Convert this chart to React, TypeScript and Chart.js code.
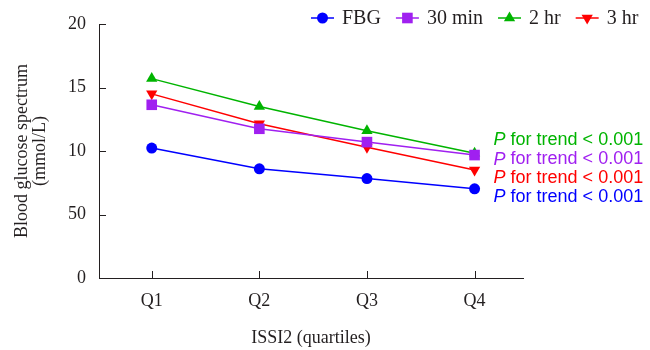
import React, { useEffect, useRef } from "react";
import { Chart, registerables } from "chart.js";

Chart.register(...registerables);

// ---- Data ----
const categories = ["Q1", "Q2", "Q3", "Q4"];
const seriesNames = ["FBG", "30 min", "2 hr", "3 hr"];
const fbgValues = [10.23, 8.6, 7.83, 7.02];
const min30Values = [13.64, 11.75, 10.7, 9.68];
const hr2Values = [15.7, 13.5, 11.6, 9.83];
const hr3Values = [14.5, 12.14, 10.3, 8.5];
const yTickValues = [0, 5, 10, 15, 20];
const yTickLabels = ["0", "50", "10", "15", "20"];
const trendTexts = ["for trend < 0.001", "for trend < 0.001", "for trend < 0.001", "for trend < 0.001"];
const trendSeries = [2, 1, 3, 0]; // order of annotation lines: 2 hr, 30 min, 3 hr, FBG
const trendYValues = [10.9, 9.33, 7.91, 6.34];

// ---- Styles ----
const colors = ["#0000ff", "#a020f0", "#00b400", "#ff0000"];
const pointStyles = ["circle", "rect", "triangle", "triangle"];
const pointRotations = [0, 0, 0, 180];
const pointRadii = [5.5, 7.5, 6.5, 6.5];
const drawOrders = [3, 0, 2, 1];
const serif = "'Liberation Serif', 'Times New Roman', serif";
const sans = "'Liberation Sans', Arial, sans-serif";
const textColor = "#231f20";

function drawMarker(ctx: CanvasRenderingContext2D, style: string, rot: number, x: number, y: number, r: number, color: string) {
  ctx.save();
  ctx.fillStyle = color;
  ctx.beginPath();
  if (style === "circle") {
    ctx.arc(x, y, r, 0, Math.PI * 2);
  } else if (style === "rect") {
    const s = r * Math.SQRT1_2;
    ctx.rect(x - s, y - s, 2 * s, 2 * s);
  } else {
    let a = (rot * Math.PI) / 180;
    ctx.moveTo(x + Math.sin(a) * r, y - Math.cos(a) * r);
    a += (2 * Math.PI) / 3;
    ctx.lineTo(x + Math.sin(a) * r, y - Math.cos(a) * r);
    a += (2 * Math.PI) / 3;
    ctx.lineTo(x + Math.sin(a) * r, y - Math.cos(a) * r);
    ctx.closePath();
  }
  ctx.fill();
  ctx.restore();
}

const decorPlugin = {
  id: "decor",
  afterDraw(chart: any) {
    const { ctx, chartArea, scales } = chart;
    const x = scales.x;
    const y = scales.y;
    ctx.save();
    // inward ticks
    ctx.strokeStyle = textColor;
    ctx.lineWidth = 1;
    ctx.beginPath();
    yTickValues.forEach((v) => {
      const py = Math.round(y.getPixelForValue(v)) + 0.5;
      ctx.moveTo(chartArea.left, py);
      ctx.lineTo(chartArea.left + 7, py);
    });
    categories.forEach((_, i) => {
      const px = Math.round(x.getPixelForValue(i)) + 0.5;
      ctx.moveTo(px, chartArea.bottom);
      ctx.lineTo(px, chartArea.bottom - 7);
    });
    ctx.stroke();

    // trend annotations
    const ax = x.getPixelForValue(categories.length - 1) + 19;
    ctx.textBaseline = "middle";
    ctx.textAlign = "left";
    trendSeries.forEach((si, k) => {
      const py = y.getPixelForValue(trendYValues[k]);
      ctx.fillStyle = colors[si];
      ctx.font = `italic 18px ${sans}`;
      ctx.fillText("P", ax, py);
      const w = ctx.measureText("P ").width;
      ctx.font = `18px ${sans}`;
      ctx.fillText(trendTexts[k], ax + w, py);
    });

    // legend
    ctx.font = `20px ${serif}`;
    let lx = 311;
    const ly = 18;
    seriesNames.forEach((name, i) => {
      ctx.strokeStyle = colors[i];
      ctx.lineWidth = 1.5;
      ctx.beginPath();
      ctx.moveTo(lx, ly);
      ctx.lineTo(lx + 23, ly);
      ctx.stroke();
      drawMarker(ctx, pointStyles[i], pointRotations[i], lx + 11.5, ly, pointRadii[i], colors[i]);
      ctx.fillStyle = textColor;
      ctx.textBaseline = "middle";
      ctx.fillText(name, lx + 31, ly + 1);
      lx += 31 + ctx.measureText(name).width + 15;
    });
    ctx.restore();
  },
};

export default function App() {
  const canvasRef = useRef<HTMLCanvasElement | null>(null);

  useEffect(() => {
    const canvas = canvasRef.current;
    if (!canvas) return;
    const series = [fbgValues, min30Values, hr2Values, hr3Values];
    const chart = new Chart(canvas, {
      type: "line",
      data: {
        datasets: series.map((vals, i) => ({
          label: seriesNames[i],
          data: categories.map((_, j) => ({ x: j, y: vals[j] })),
          borderColor: colors[i],
          backgroundColor: colors[i],
          borderWidth: 1.5,
          pointStyle: pointStyles[i] as any,
          pointRotation: pointRotations[i],
          pointRadius: pointRadii[i],
          pointBorderWidth: 0,
          pointBackgroundColor: colors[i],
          tension: 0,
          fill: false,
          order: drawOrders[i],
        })),
      },
      options: {
        responsive: false,
        animation: false,
        layout: { padding: { top: 24, right: 127, bottom: 0, left: 0 } },
        plugins: { legend: { display: false }, tooltip: { enabled: false } },
        scales: {
          x: {
            type: "linear",
            min: -0.49,
            max: 3.45,
            grid: { display: false, drawTicks: false },
            border: { display: true, color: textColor, width: 1 },
            afterBuildTicks: (s: any) => {
              s.ticks = categories.map((_, i) => ({ value: i }));
            },
            afterFit: (s: any) => {
              s.height = 72;
            },
            ticks: {
              autoSkip: false,
              maxRotation: 0,
              padding: 12,
              color: textColor,
              font: { family: serif, size: 18 },
              callback: (v: any) => categories[Number(v)] ?? "",
            },
            title: {
              display: true,
              text: "ISSI2 (quartiles)",
              color: textColor,
              font: { family: serif, size: 18, lineHeight: 1 },
              padding: { top: 0, bottom: 3 },
            },
          },
          y: {
            type: "linear",
            min: 0,
            max: 20,
            grid: { display: false, drawTicks: false },
            border: { display: true, color: textColor, width: 1 },
            afterBuildTicks: (s: any) => {
              s.ticks = yTickValues.map((v) => ({ value: v }));
            },
            afterFit: (s: any) => {
              s.width = 99;
            },
            ticks: {
              padding: 13,
              color: textColor,
              font: { family: serif, size: 18 },
              callback: (v: any) => yTickLabels[yTickValues.indexOf(Number(v))] ?? "",
            },
            title: {
              display: true,
              text: ["Blood glucose spectrum", "(mmol/L)"],
              color: textColor,
              font: { family: serif, size: 18, lineHeight: 1 },
              padding: { top: 13, bottom: 0 },
            },
          },
        },
      },
      plugins: [decorPlugin],
    });
    return () => chart.destroy();
  }, []);

  return (
    <div style={{ position: "absolute", left: 0, top: 0, width: 650, height: 350, background: "#fff" }}>
      <canvas ref={canvasRef} width={650} height={350} style={{ display: "block" }} />
    </div>
  );
}
